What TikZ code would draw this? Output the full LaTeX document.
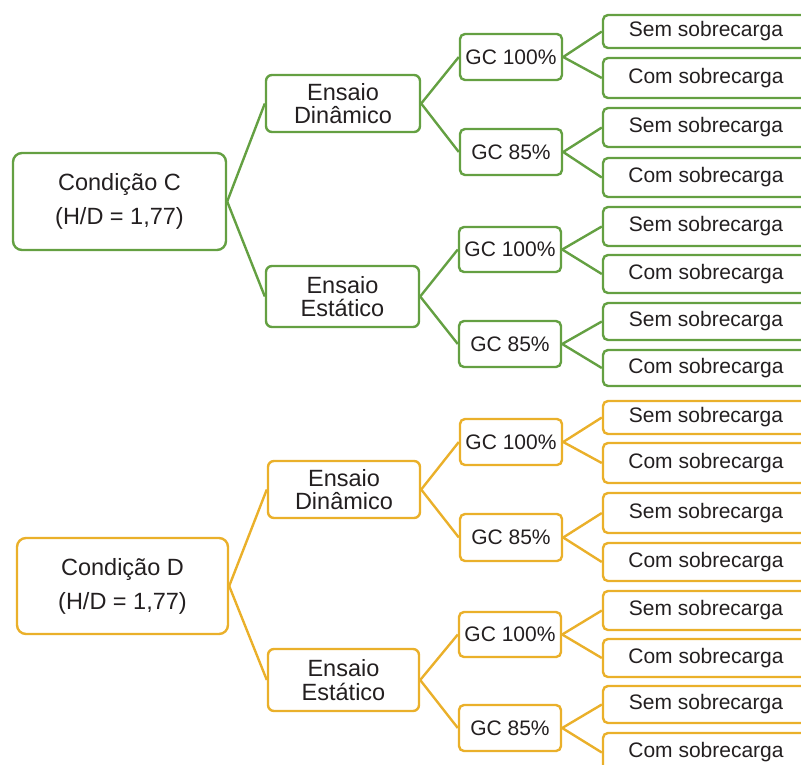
\documentclass[tikz,border=0pt]{standalone}
\usepackage{fontspec}
\setmainfont{Liberation Sans}
\definecolor{gr}{RGB}{100,160,66}
\definecolor{og}{RGB}{234,176,42}
\definecolor{tx}{RGB}{35,31,32}
\tikzset{
  box/.style={draw, line width=2.4pt, rounded corners=5pt, inner sep=0pt, text=tx, align=center},
  bigbox/.style={box, rounded corners=9pt, font=\fontsize{23.5}{34}\selectfont},
  midbox/.style={box, rounded corners=6pt, font=\fontsize{23.5}{23.3}\selectfont},
  gcbox/.style={box, font=\fontsize{21}{21}\selectfont, minimum width=102pt},
  leafbox/.style={box, font=\fontsize{21}{21}\selectfont, minimum width=206pt},
  link/.style={line width=2.4pt}
}
\newcommand\mkleaf[5]{\node[leafbox, draw=#1, minimum height=#4pt] (#2) at (706,#3) {#5};}
\begin{document}
\begin{tikzpicture}[x=1pt,y=-1pt]
\clip (0,0) rectangle (801,764);
% ---------- green tree ----------
\node[bigbox, draw=gr, minimum width=213pt, minimum height=97pt] (rc) at (119.5,201.5) {Condição C\\(H/D = 1,77)};
\node[midbox, draw=gr, minimum width=154pt, minimum height=57pt] (dc) at (343,103.5) {Ensaio\\Dinâmico};
\node[midbox, draw=gr, minimum width=153pt, minimum height=61pt] (ec) at (342.5,296.5) {Ensaio\\Estático};
\node[gcbox, draw=gr, minimum height=46pt] (g1) at (511,57) {GC 100\%};
\node[gcbox, draw=gr, minimum height=46pt] (g2) at (511,152) {GC 85\%};
\node[gcbox, draw=gr, minimum height=45pt] (g3) at (510,249.5) {GC 100\%};
\node[gcbox, draw=gr, minimum height=46pt] (g4) at (510,344) {GC 85\%};
\mkleaf{gr}{l1}{31.5}{33}{Sem sobrecarga}
\mkleaf{gr}{l2}{78}{40}{Com sobrecarga}
\mkleaf{gr}{l3}{127.5}{39}{Sem sobrecarga}
\mkleaf{gr}{l4}{177.5}{39}{Com sobrecarga}
\mkleaf{gr}{l5}{226.5}{39}{Sem sobrecarga}
\mkleaf{gr}{l6}{274}{38}{Com sobrecarga}
\mkleaf{gr}{l7}{321.5}{37}{Sem sobrecarga}
\mkleaf{gr}{l8}{368}{36}{Com sobrecarga}
\draw[link, gr] (rc.east) -- (dc.west);
\draw[link, gr] (rc.east) -- (ec.west);
\draw[link, gr] (dc.east) -- (g1.west);
\draw[link, gr] (dc.east) -- (g2.west);
\draw[link, gr] (ec.east) -- (g3.west);
\draw[link, gr] (ec.east) -- (g4.west);
\draw[link, gr] (g1.east) -- (l1.west);
\draw[link, gr] (g1.east) -- (l2.west);
\draw[link, gr] (g2.east) -- (l3.west);
\draw[link, gr] (g2.east) -- (l4.west);
\draw[link, gr] (g3.east) -- (l5.west);
\draw[link, gr] (g3.east) -- (l6.west);
\draw[link, gr] (g4.east) -- (l7.west);
\draw[link, gr] (g4.east) -- (l8.west);
% ---------- orange tree ----------
\node[bigbox, draw=og, minimum width=211pt, minimum height=96pt] (rd) at (122.5,586) {Condição D\\(H/D = 1,77)};
\node[midbox, draw=og, minimum width=152pt, minimum height=57pt] (dd) at (344,489.5) {Ensaio\\Dinâmico};
\node[midbox, draw=og, minimum width=151pt, minimum height=62pt] (ed) at (343.5,680) {Ensaio\\Estático};
\node[gcbox, draw=og, minimum height=46pt] (g5) at (511,442) {GC 100\%};
\node[gcbox, draw=og, minimum height=47pt] (g6) at (511,537.5) {GC 85\%};
\node[gcbox, draw=og, minimum height=45pt] (g7) at (510,634.5) {GC 100\%};
\node[gcbox, draw=og, minimum height=46pt] (g8) at (510,728) {GC 85\%};
\mkleaf{og}{l9}{417.5}{33}{Sem sobrecarga}
\mkleaf{og}{l10}{463}{40}{Com sobrecarga}
\mkleaf{og}{l11}{513}{40}{Sem sobrecarga}
\mkleaf{og}{l12}{562}{38}{Com sobrecarga}
\mkleaf{og}{l13}{610.5}{39}{Sem sobrecarga}
\mkleaf{og}{l14}{658}{38}{Com sobrecarga}
\mkleaf{og}{l15}{704.5}{37}{Sem sobrecarga}
\mkleaf{og}{l16}{752.5}{39}{Com sobrecarga}
\draw[link, og] (rd.east) -- (dd.west);
\draw[link, og] (rd.east) -- (ed.west);
\draw[link, og] (dd.east) -- (g5.west);
\draw[link, og] (dd.east) -- (g6.west);
\draw[link, og] (ed.east) -- (g7.west);
\draw[link, og] (ed.east) -- (g8.west);
\draw[link, og] (g5.east) -- (l9.west);
\draw[link, og] (g5.east) -- (l10.west);
\draw[link, og] (g6.east) -- (l11.west);
\draw[link, og] (g6.east) -- (l12.west);
\draw[link, og] (g7.east) -- (l13.west);
\draw[link, og] (g7.east) -- (l14.west);
\draw[link, og] (g8.east) -- (l15.west);
\draw[link, og] (g8.east) -- (l16.west);
\end{tikzpicture}
\end{document}
